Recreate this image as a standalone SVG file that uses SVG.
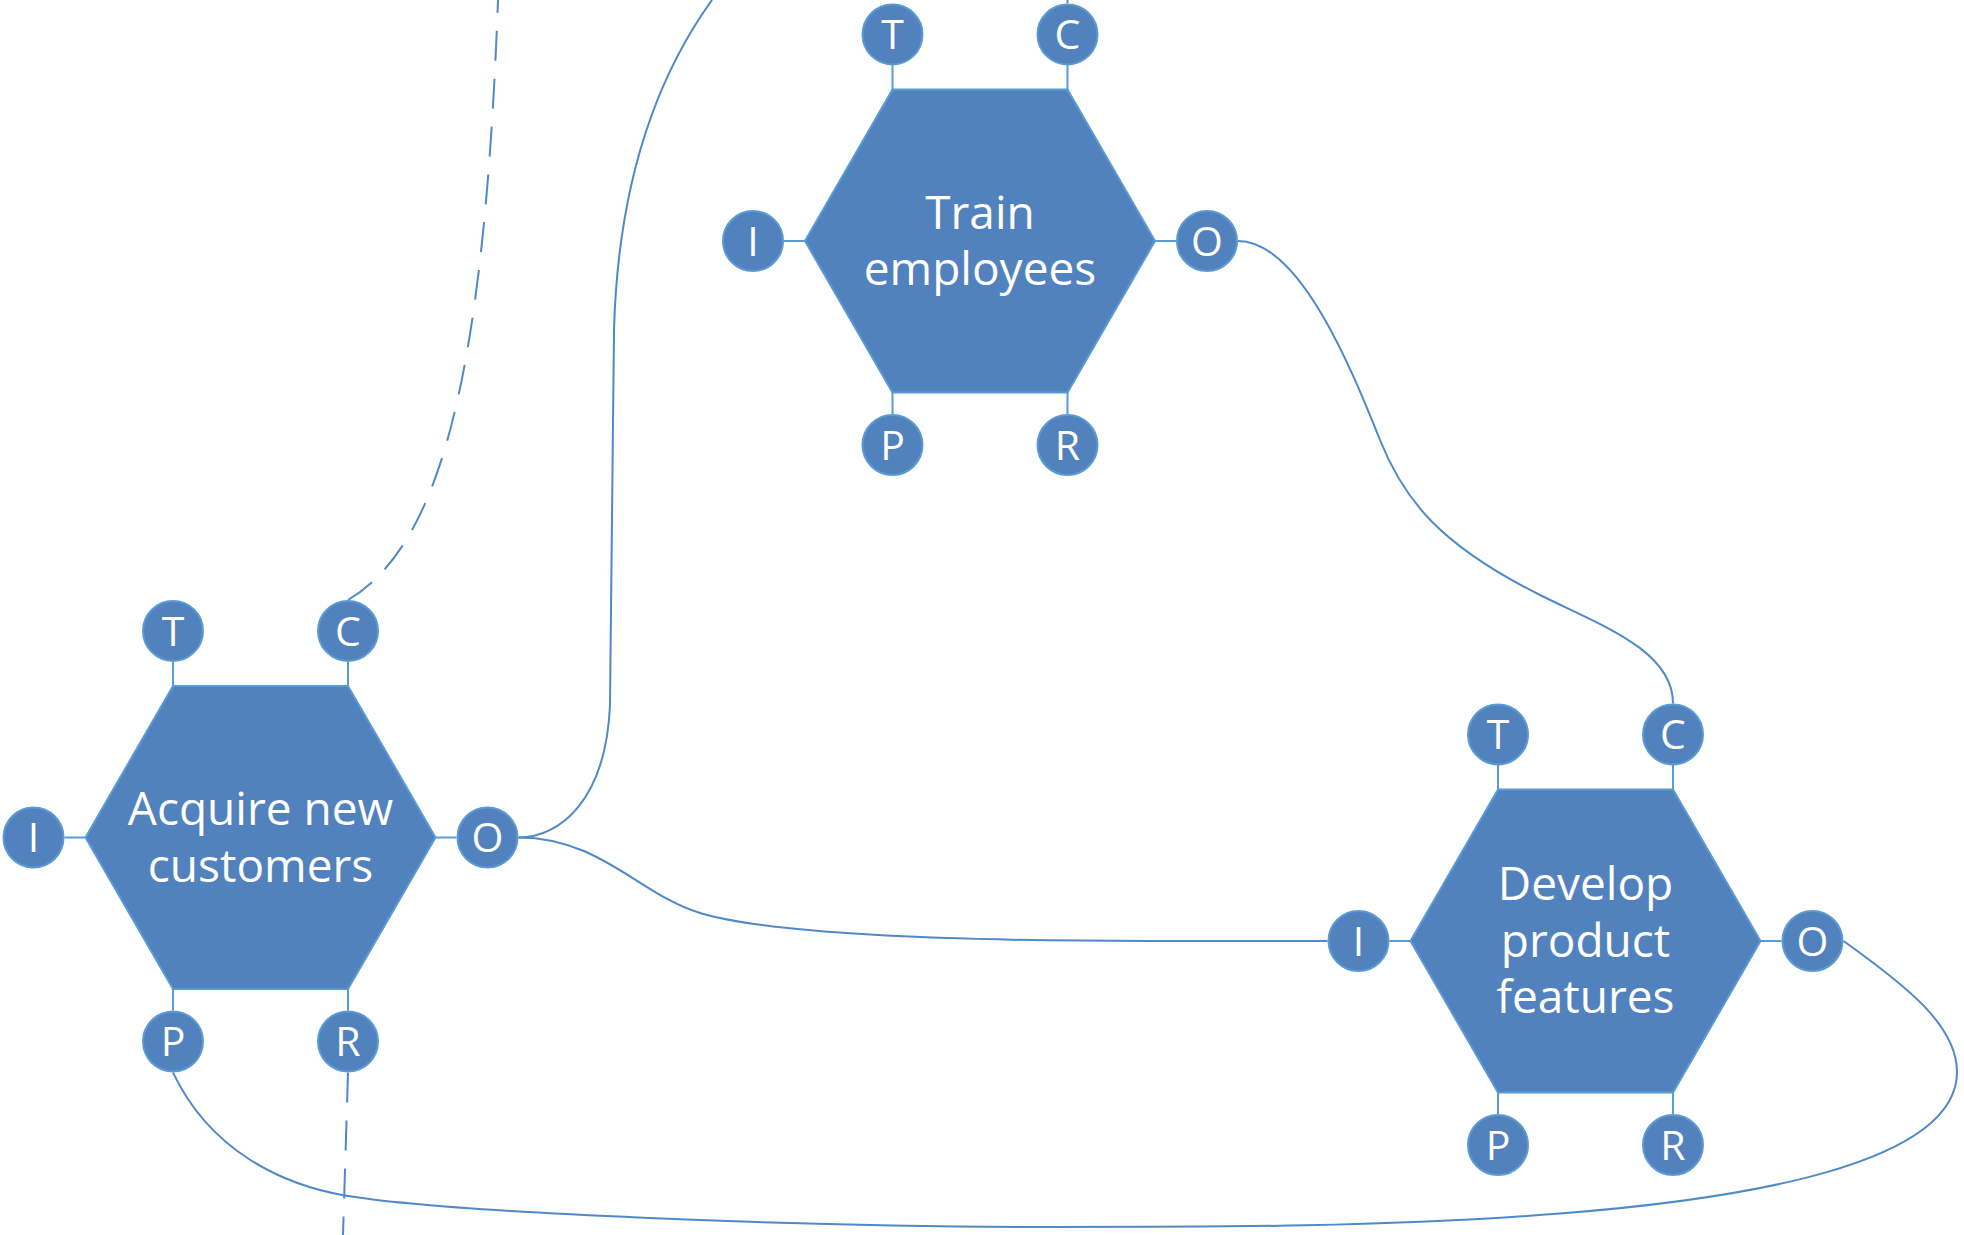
<svg xmlns="http://www.w3.org/2000/svg" width="1964" height="1235" viewBox="0 0 1964 1235">
<style>
.hex{fill:#5182bd;stroke:#5b9bd5;stroke-width:2}
.port{fill:#5182bd;stroke:#5b9bd5;stroke-width:2}
.stub{stroke:#5b9bd5;stroke-width:2;fill:none}
.lbl{font-family:"Open Sans","Noto Sans",sans-serif;font-size:46px;fill:#ffffff;text-anchor:middle}
.plbl{font-family:"Open Sans","Noto Sans",sans-serif;font-size:41px;fill:#ffffff;text-anchor:middle}
.conn{fill:none;stroke:#4f89c9;stroke-width:2}
.dash{stroke-dasharray:30 18}
</style>
<defs>
<g id="ports">
<line class="stub" x1="-87.5" y1="-176" x2="-87.5" y2="-151.6"/>
<line class="stub" x1="87.5" y1="-176" x2="87.5" y2="-151.6"/>
<line class="stub" x1="-196" y1="0" x2="-175" y2="0"/>
<line class="stub" x1="175" y1="0" x2="196" y2="0"/>
<line class="stub" x1="-87.5" y1="151.6" x2="-87.5" y2="173"/>
<line class="stub" x1="87.5" y1="151.6" x2="87.5" y2="173"/>
<polygon class="hex" points="-175,0 -87.5,-151.6 87.5,-151.6 175,0 87.5,151.6 -87.5,151.6"/>
<circle class="port" cx="-87.5" cy="-206.6" r="30"/>
<circle class="port" cx="87.5" cy="-206.6" r="30"/>
<circle class="port" cx="-227" cy="0" r="30"/>
<circle class="port" cx="227" cy="0" r="30"/>
<circle class="port" cx="-87.5" cy="204" r="30"/>
<circle class="port" cx="87.5" cy="204" r="30"/>
<text class="plbl" x="-87.5" y="-192">T</text>
<text class="plbl" x="87.5" y="-192">C</text>
<text class="plbl" x="-227" y="14.5">I</text>
<text class="plbl" x="227" y="14.5">O</text>
<text class="plbl" x="-87.5" y="218.5">P</text>
<text class="plbl" x="87.5" y="218.5">R</text>
</g>
</defs>
<g id="connectors">
<path class="conn dash" d="M348,600 C440,545 484,380 498,0"/>
<path class="conn dash" d="M348,1072.6 L343,1235"/>
<path class="conn" d="M1067.5,3.4 L1067.5,-5"/>
<path class="conn" d="M518.5,837.5 C560,837.5 606,800 610,705 L614,330 C617,220 640,100 712,0"/>
<path class="conn" d="M518.5,837.5 C600,837.5 640,895 700,913 C760,931 900,941 1150,941 L1327.5,941"/>
<path class="conn" d="M1238,241 C1300,241 1352,370 1380,440 C1404,500 1440,545 1540,595 C1600,625 1673,650 1673,703.4"/>
<path class="conn" d="M1843.5,941 C1905,985 1957,1025 1957,1072 C1957,1165 1740,1199.5 1560,1213.5 C1390,1227 1220,1227 1050,1227 C800,1227 450,1213 345,1195.5 C280,1184 210,1150 173,1072.6"/>
</g>
<g id="node-train" transform="translate(980,241)">
<use href="#ports"/>
<text class="lbl" x="0" y="-12.5">Train</text>
<text class="lbl" x="0" y="44">employees</text>
</g>
<g id="node-acquire" transform="translate(260.5,837.5)">
<use href="#ports"/>
<text class="lbl" x="0" y="-12.5">Acquire new</text>
<text class="lbl" x="0" y="44">customers</text>
</g>
<g id="node-develop" transform="translate(1585.5,941)">
<use href="#ports"/>
<text class="lbl" x="0" y="-41">Develop</text>
<text class="lbl" x="0" y="15.7">product</text>
<text class="lbl" x="0" y="72.3">features</text>
</g>
</svg>
